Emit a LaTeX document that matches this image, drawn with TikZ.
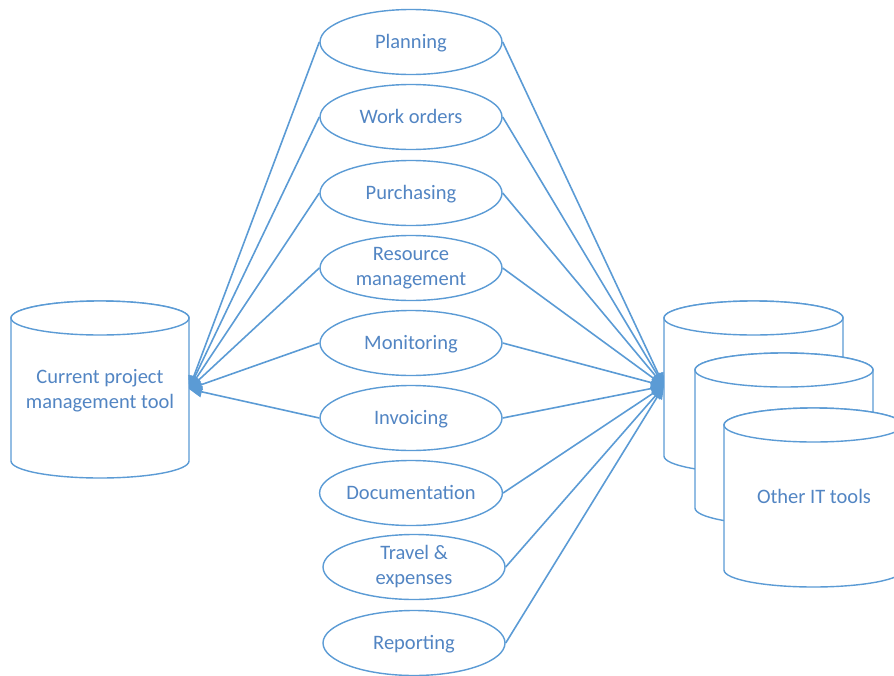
\documentclass[tikz,border=0pt]{standalone}
\usepackage{fontspec}
\setmainfont{Carlito}
\usetikzlibrary{shapes.geometric,arrows.meta}
\definecolor{lineblue}{HTML}{5B9BD5}
\definecolor{textblue}{HTML}{5285C3}
\begin{document}
\begin{tikzpicture}[x=1pt,y=1pt,
  every node/.style={font=\fontsize{20.5}{25}\selectfont, text=textblue},
  proc/.style={ellipse, draw=lineblue, line width=1.4pt, fill=white, minimum width=182pt, minimum height=65pt, inner sep=0pt, align=center},
  oneline/.style={text height=16pt, text depth=3pt},
  cyl/.style={draw=lineblue, line width=1.4pt, fill=white},
  conn/.style={draw=lineblue, line width=1.6pt, -{Triangle[length=13pt,width=11pt]}}
]
\useasboundingbox (0,0) rectangle (894,-675);
% left cylinder
\path[cyl] (11,-318) -- (11,-461) arc[start angle=180,end angle=360,x radius=89pt,y radius=17pt] -- (189,-318) arc[start angle=0,end angle=180,x radius=89pt,y radius=17pt] -- cycle;
\draw[cyl] (100,-318) ellipse[x radius=89pt,y radius=17pt];
\node (cur) at (100,-391) [align=center] {Current project\\management tool};
\coordinate (curin) at (189,-389);
% right cylinders
\path[cyl] (664,-318) -- (664,-456) arc[start angle=180,end angle=360,x radius=89.5pt,y radius=17pt] -- (843,-318) arc[start angle=0,end angle=180,x radius=89.5pt,y radius=17pt] -- cycle;
\draw[cyl] (753.5,-318) ellipse[x radius=89.5pt,y radius=17pt];
\path[cyl] (695,-370) -- (695,-508) arc[start angle=180,end angle=360,x radius=89pt,y radius=17pt] -- (873,-370) arc[start angle=0,end angle=180,x radius=89pt,y radius=17pt] -- cycle;
\draw[cyl] (784,-370) ellipse[x radius=89pt,y radius=17pt];
\path[cyl] (724,-425) -- (724,-570) arc[start angle=180,end angle=360,x radius=89.5pt,y radius=17pt] -- (903,-425) arc[start angle=0,end angle=180,x radius=89.5pt,y radius=17pt] -- cycle;
\draw[cyl] (813.5,-425) ellipse[x radius=89.5pt,y radius=17pt];
\node[oneline] (other) at (814,-497) {Other IT tools};
\coordinate (othin) at (664,-386);
% process ellipses
\node[proc,oneline] (p1) at (411,-42) {Planning};
\node[proc,oneline] (p2) at (411,-117) {Work orders};
\node[proc,oneline] (p3) at (411,-193) {Purchasing};
\node[proc] (p4) at (411,-268) {Resource\\management};
\node[proc,oneline] (p5) at (411,-343) {Monitoring};
\node[proc,oneline] (p6) at (411,-418) {Invoicing};
\node[proc,oneline] (p7) at (411,-493) {Documentation};
\node[proc] (p8) at (414,-567) {Travel \&\\expenses};
\node[proc,oneline] (p9) at (414,-643) {Reporting};
% connectors
\foreach \p in {p1,p2,p3,p4,p5,p6}{
  \draw[conn] (\p.west) -- (curin);
}
\foreach \p in {p1,p2,p3,p4,p5,p6,p7,p8,p9}{
  \draw[conn] (\p.east) -- (othin);
}
\end{tikzpicture}
\end{document}
